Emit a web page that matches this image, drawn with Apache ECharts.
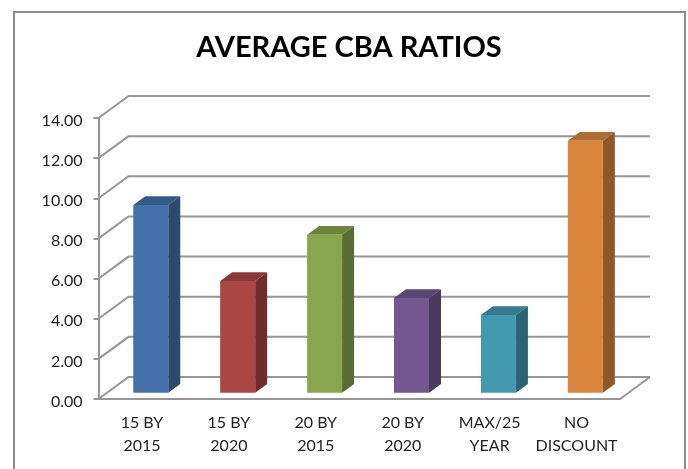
<!DOCTYPE html>
<html>
<head>
<meta charset="utf-8">
<style>
    html, body { margin: 0; padding: 0; background: #fff; }
    #chart { width: 688px; height: 469px; }
</style>
<script src="https://cdn.jsdelivr.net/npm/echarts@6/dist/echarts.min.js"></script>
</head>
<body>
<div id="chart"></div>
<script>
const categories = ['15 BY\n2015', '15 BY\n2020', '20 BY\n2015', '20 BY\n2020', 'MAX/25\nYEAR', 'NO\nDISCOUNT'];
const ratios = [9.35, 5.57, 7.87, 4.72, 3.87, 12.55];
const yTicks = [0, 2, 4, 6, 8, 10, 12, 14];
const frontColors = ['#4471a9', '#aa4643', '#89a54e', '#71588f', '#4198af', '#db843d'];
const sideColors = ['#2c4a6e', '#6f2e2c', '#5a6c33', '#4a3a5e', '#2b6473', '#8f5728'];
const topColors = ['#355a88', '#883836', '#6d843e', '#5a4672', '#34798c', '#ae6a31'];

const wallColor = '#969696';
const textColor = '#222222';
const fontName = 'Lato';
// fake 3d depth of the walls and the bars, in pixels
const wallDx = 30;
const wallDy = 22;
const barWidth = 35;
const barDx = 12;
const barDy = 8.7;
const barShiftX = 8.8;
const barShiftY = 6.3;

function renderWall(params, api) {
    let rect = params.coordSys;
    let y = api.coord([0, api.value(0)])[1];
    let x0 = rect.x;
    let x1 = rect.x + rect.width;
    let children = [{
        type: 'polyline',
        shape: { points: [[x0, y], [x0 + wallDx, y - wallDy], [x1 + wallDx, y - wallDy]] },
        style: { stroke: wallColor, lineWidth: 2, fill: null }
    }];
    if (api.value(0) === 0) {
        children.push({
            type: 'line',
            shape: { x1: x1, y1: y, x2: x1 + wallDx, y2: y - wallDy },
            style: { stroke: wallColor, lineWidth: 2 }
        });
    }
    return { type: 'group', children: children };
}

function renderBar(params, api) {
    let i = api.value(0);
    let top = api.coord([i, api.value(1)]);
    let base = api.coord([i, 0]);
    let x0 = top[0] + barShiftX - barWidth / 2;
    let x1 = x0 + barWidth;
    let y0 = top[1] - barShiftY;
    let y1 = base[1] - barShiftY;
    return {
        type: 'group',
        children: [
            {
                type: 'polygon',
                shape: { points: [[x0, y0], [x0 + barDx, y0 - barDy], [x1 + barDx, y0 - barDy], [x1, y0]] },
                style: { fill: topColors[i] }
            },
            {
                type: 'polygon',
                shape: { points: [[x1, y0], [x1 + barDx, y0 - barDy], [x1 + barDx, y1 - barDy], [x1, y1]] },
                style: { fill: sideColors[i] }
            },
            {
                type: 'rect',
                shape: { x: x0, y: y0, width: barWidth, height: y1 - y0 },
                style: { fill: frontColors[i] }
            }
        ]
    };
}

let chart = echarts.init(document.getElementById('chart'));
chart.setOption({
    animation: false,
    backgroundColor: '#fff',
    title: {
        text: 'AVERAGE CBA RATIOS',
        left: 344,
        top: 28,
        textAlign: 'center',
        textStyle: { fontFamily: fontName, fontSize: 29, fontWeight: 'bold', color: '#000' }
    },
    grid: { left: 98.5, right: 68, top: 118, bottom: 70 },
    xAxis: {
        type: 'category',
        data: categories,
        axisLine: { lineStyle: { color: wallColor, width: 2 } },
        axisTick: { length: 5, lineStyle: { color: wallColor, width: 2 } },
        axisLabel: {
            fontFamily: fontName, fontSize: 16, color: textColor,
            lineHeight: 23, margin: 12, interval: 0
        }
    },
    yAxis: {
        type: 'value',
        min: 0,
        max: 14,
        interval: 2,
        splitLine: { show: false },
        axisLine: { show: true, lineStyle: { color: wallColor, width: 2 } },
        axisTick: { show: true, length: 5, lineStyle: { color: wallColor, width: 2 } },
        axisLabel: {
            fontFamily: fontName, fontSize: 16, color: textColor, margin: 16,
            verticalAlign: 'top',
            lineHeight: 5,
            formatter: v => v.toFixed(2)
        }
    },
    series: [
        {
            type: 'custom',
            z: 1,
            silent: true,
            clip: false,
            renderItem: renderWall,
            encode: { y: 0 },
            data: yTicks.map(v => [v])
        },
        {
            type: 'custom',
            z: 3,
            silent: true,
            clip: false,
            renderItem: renderBar,
            encode: { x: 0, y: 1 },
            data: ratios.map((v, i) => [i, v])
        }
    ],
    graphic: [{
        type: 'polyline',
        silent: true,
        shape: { points: [[14, 469], [14, 12], [685, 12], [685, 469]] },
        style: { stroke: '#8c8c8c', lineWidth: 2, fill: null }
    }]
});
</script>
</body>
</html>
